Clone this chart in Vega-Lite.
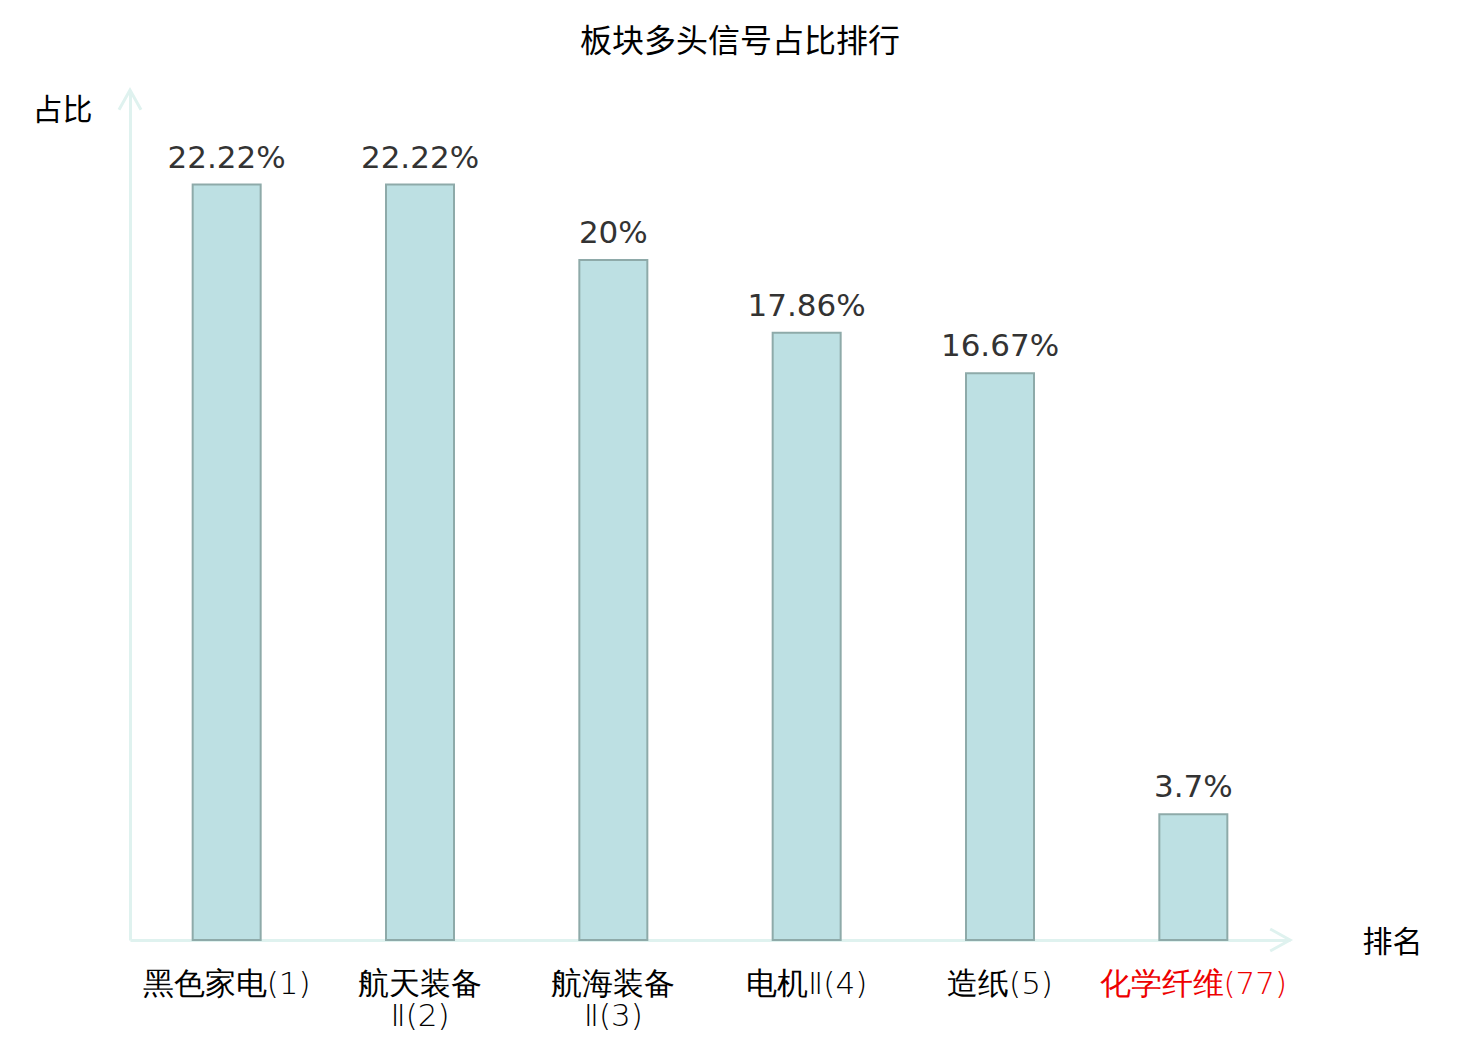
{
  "$schema": "https://vega.github.io/schema/vega-lite/v6.json",
  "width": 1160,
  "height": 850,
  "autosize": {"type": "none"},
  "padding": {"left": 130, "top": 90, "right": 190, "bottom": 100},
  "background": "#ffffff",
  "config": {
    "view": {"stroke": null},
    "font": "Noto Sans CJK SC"
  },
  "title": {
    "text": "板块多头信号占比排行",
    "font": "Noto Sans CJK SC",
    "fontSize": 32,
    "fontWeight": "normal",
    "color": "#000000",
    "anchor": "middle",
    "dx": 30,
    "offset": 25
  },
  "encoding": {
    "y": {
      "field": "v",
      "type": "quantitative",
      "scale": {"domain": [0, 25], "nice": false},
      "axis": {
        "title": "占比",
        "titleAngle": 0,
        "titleAlign": "right",
        "titleBaseline": "middle",
        "titleX": -38,
        "titleY": 20,
        "titleFont": "Noto Sans CJK SC",
        "titleFontSize": 30,
        "titleFontWeight": "normal",
        "titleColor": "#000000",
        "labels": false,
        "ticks": false,
        "grid": false,
        "domainColor": "#dff2ef",
        "domainWidth": 3
      }
    }
  },
  "layer": [
    {
      "data": {
        "values": [
          {"name": "黑色家电(1)", "v": 22.22, "label": "22.22%"},
          {"name": "航天装备\nⅡ(2)", "v": 22.22, "label": "22.22%"},
          {"name": "航海装备\nⅡ(3)", "v": 20, "label": "20%"},
          {"name": "电机Ⅱ(4)", "v": 17.86, "label": "17.86%"},
          {"name": "造纸(5)", "v": 16.67, "label": "16.67%"},
          {"name": "化学纤维(77)", "v": 3.7, "label": "3.7%"}
        ]
      },
      "encoding": {
        "x": {
          "field": "name",
          "type": "nominal",
          "sort": null,
          "axis": {
            "title": "排名",
            "titleAlign": "left",
            "titleBaseline": "middle",
            "titleX": 1232,
            "titleY": 2,
            "titleFont": "Noto Sans CJK SC",
            "titleFontSize": 30,
            "titleFontWeight": "normal",
            "titleColor": "#000000",
            "labelAngle": 0,
            "labelFont": "DejaVu Sans",
            "labelFontWeight": 200,
            "labelFontSize": 31,
            "labelLimit": 400,
            "labelColor": {"expr": "indexof(datum.value, '化学纤维') >= 0 ? '#ee0000' : '#000000'"},
            "labelExpr": "split(datum.label, '\\n')",
            "labelLineHeight": 32,
            "labelPadding": 29,
            "labelOverlap": false,
            "ticks": false,
            "grid": false,
            "domainColor": "#dff2ef",
            "domainWidth": 3
          }
        }
      },
      "layer": [
        {
          "mark": {
            "type": "bar",
            "width": 68,
            "fill": "#bde0e3",
            "stroke": "#8eaaa9",
            "strokeWidth": 2
          }
        },
        {
          "mark": {
            "type": "text",
            "baseline": "alphabetic",
            "dy": -17,
            "font": "DejaVu Sans",
            "fontSize": 31,
            "color": "#333333"
          },
          "encoding": {"text": {"field": "label"}}
        }
      ]
    },
    {
      "data": {"values": [{"ax": 0, "v": 25}]},
      "mark": {
        "type": "point",
        "shape": "M-1,1.8L0,0L1,1.8",
        "size": 484,
        "filled": false,
        "stroke": "#dff2ef",
        "strokeWidth": 3,
        "opacity": 1
      },
      "encoding": {
        "x": {"field": "ax", "type": "quantitative", "scale": {"domain": [0, 1], "nice": false, "zero": false}, "axis": null}
      }
    },
    {
      "data": {"values": [{"ax": 1, "v": 0}]},
      "mark": {
        "type": "point",
        "shape": "M-1.8,-1L0,0L-1.8,1",
        "size": 484,
        "filled": false,
        "stroke": "#dff2ef",
        "strokeWidth": 3,
        "opacity": 1
      },
      "encoding": {
        "x": {"field": "ax", "type": "quantitative", "scale": {"domain": [0, 1], "nice": false, "zero": false}, "axis": null}
      }
    }
  ],
  "resolve": {"scale": {"x": "independent"}}
}
